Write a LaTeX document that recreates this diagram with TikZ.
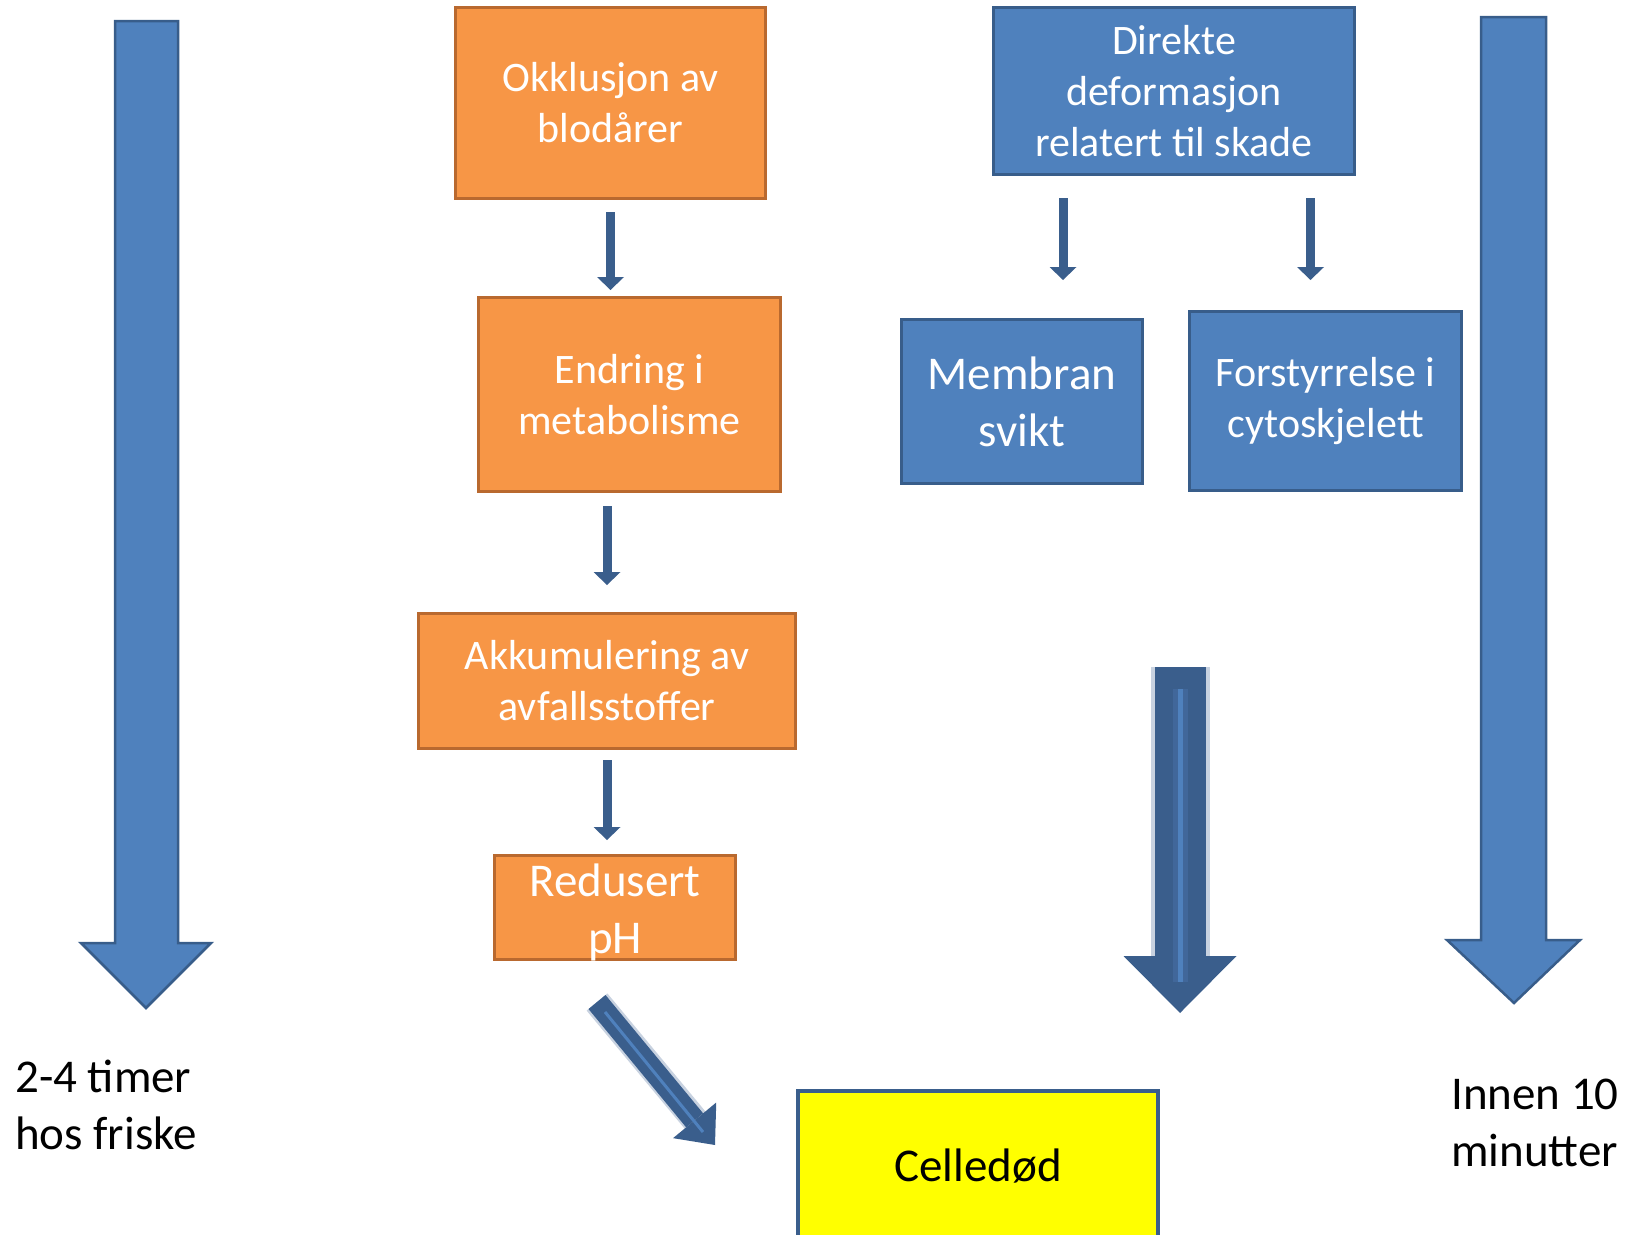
\documentclass[tikz,border=0pt]{standalone}
\usepackage{fontspec}
\setmainfont{Carlito}
\usetikzlibrary{arrows.meta,positioning}

\definecolor{orangefill}{HTML}{F79646}
\definecolor{orangeline}{HTML}{B9692F}
\definecolor{bluefill}{HTML}{4F81BD}
\definecolor{blueline}{HTML}{385D8A}
\definecolor{arrowdark}{HTML}{3A5E8C}
\definecolor{haloblue}{HTML}{C8D2E0}
\definecolor{bandblue}{HTML}{41679A}
\definecolor{deathyellow}{HTML}{FFFF00}

\begin{document}
\begin{tikzpicture}[x=1pt,y=-1pt,
    orangebox/.style={draw=orangeline,fill=orangefill,line width=3pt,text=white,align=center,inner sep=0pt,font=\fontsize{42}{51}\selectfont},
    bluebox/.style={draw=blueline,fill=bluefill,line width=3pt,text=white,align=center,inner sep=0pt,font=\fontsize{42}{51}\selectfont},
    bigarrow/.style={draw=blueline,fill=bluefill,line width=2.5pt,line join=miter},
    smallarrow/.style={draw=arrowdark,line width=9pt,-{Triangle[width=27pt,length=13pt,line width=0pt]}},
    darkarrow/.style={draw=arrowdark,line cap=butt},
    haloline/.style={draw=haloblue,line cap=butt},
    stripe/.style={draw=bluefill,line cap=butt},
    timetext/.style={anchor=west,align=left,inner sep=0pt,font=\fontsize{47}{57}\selectfont}]

    \useasboundingbox (0,0) rectangle (1638,1234);

    % time axes on both sides
    \draw[bigarrow] (115,21) -- (178,21) -- (178,943) -- (211,943) -- (146,1008) -- (81,943) -- (115,943) -- cycle;
    \draw[bigarrow] (1481,17) -- (1546,17) -- (1546,940) -- (1580,940) -- (1514,1003) -- (1447,940) -- (1481,940) -- cycle;
    \node[timetext] (slow) at (15,1105) {2-4 timer\\hos friske};
    \node[timetext] (fast) at (1451,1123) {Innen 10\\minutter};

    % ischemic chain
    \node[orangebox,minimum width=310pt,minimum height=191pt] (okklusjon) at (610.5,103) {Okklusjon av\\blodårer};
    \node[orangebox,minimum width=302pt,minimum height=194pt] (endring) at (629.5,394.5) {Endring i\\metabolisme};
    \node[orangebox,minimum width=377pt,minimum height=135pt] (akkum) at (607,681) {Akkumulering av\\avfallsstoffer};
    \node[orangebox,minimum width=241pt,minimum height=104pt,font=\fontsize{47}{57}\selectfont] (redusert) at (615,907.5)
        {\smash{\raisebox{-12pt}{\begin{tabular}{@{}c@{}}Redusert\\pH\end{tabular}}}};

    % direct deformation
    \node[bluebox,minimum width=361pt,minimum height=167pt] (direkte) at (1174,91) {Direkte\\deformasjon\\relatert til skade};
    \node[bluebox,minimum width=241pt,minimum height=164pt,font=\fontsize{47}{57}\selectfont] (membran) at (1022,401.5) {Membran\\svikt};
    \node[bluebox,minimum width=272pt,minimum height=179pt] (cyto) at (1325.5,401) {Forstyrrelse i\\cytoskjelett};

    % end point
    \node[draw=arrowdark,fill=deathyellow,line width=4pt,minimum width=360pt,minimum height=150pt,inner sep=0pt,font=\fontsize{47}{57}\selectfont] (celledod) at (978,1166) {Celledød};

    % small arrows between boxes
    \draw[smallarrow,shorten <=12pt,shorten >=6pt] (okklusjon.south) -- (okklusjon.south |- endring.north);
    \draw[smallarrow,shorten <=13pt,shorten >=27pt] (akkum.north |- endring.south) -- (akkum.north);
    \draw[smallarrow,shorten <=10pt,shorten >=14pt] (akkum.south) -- (akkum.south |- redusert.north);
    \draw[smallarrow,shorten <=22pt,shorten >=38pt] ([xshift=41pt]membran.north |- direkte.south) -- ([xshift=41pt]membran.north);
    \draw[smallarrow,shorten <=22pt,shorten >=30pt] ([xshift=-15pt]cyto.north |- direkte.south) -- ([xshift=-15pt]cyto.north);

    % fat arrow down from the blue side
    \coordinate (midtop) at (1180,667);
    \coordinate (midtip) at (1180,1013);
    \draw[haloline,line width=59pt] (midtop) -- (1180,956);
    \draw[darkarrow,line width=51pt,-{Triangle[width=113pt,length=57pt,line width=0pt]}] (midtop) -- (midtip);
    \draw[draw=bandblue,line width=15pt] (1180,689) -- (1180,982);
    \draw[stripe,line width=5pt] (1180,689) -- (1180,982);

    % diagonal arrow from the orange side
    \coordinate (diagtop) at (597,1002);
    \coordinate (diagtip) at (715,1145);
    \draw[haloline,line width=27pt] (diagtop) -- (695,1120);
    \draw[darkarrow,line width=22pt,-{Triangle[width=56pt,length=32pt,line width=0pt]}] (diagtop) -- (diagtip);
    \draw[stripe,line width=3pt] (605,1012) -- (703,1132);
\end{tikzpicture}
\end{document}
